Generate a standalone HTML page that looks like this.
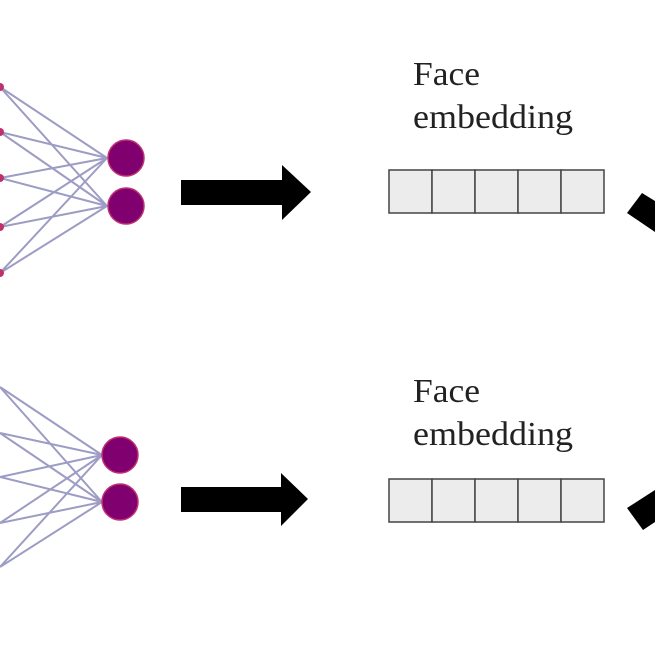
<!DOCTYPE html>
<html><head><meta charset="utf-8"><style>html,body{margin:0;padding:0;background:#fff}svg{display:block}</style></head>
<body>
<svg width="655" height="655" viewBox="0 0 655 655" xmlns="http://www.w3.org/2000/svg">
<g stroke="#9c9cc4" stroke-width="2" fill="none">
  <path d="M0 87L107 158M0 87L107 206M0 132L107 158M0 132L107 206M0 178L107 158M0 178L107 206M0 227L107 158M0 227L107 206M0 273L107 158M0 273L107 206"/>
  <path d="M0 387L102 455M0 387L102 502M0 433L102 455M0 433L102 502M0 477L102 455M0 477L102 502M0 523L102 455M0 523L102 502M0 567L102 455M0 567L102 502"/>
</g>
<g fill="#c0306a">
  <circle cx="0" cy="87" r="4"/><circle cx="0" cy="132" r="4"/><circle cx="0" cy="178" r="4"/><circle cx="0" cy="227" r="4"/><circle cx="0" cy="273" r="4"/>
</g>
<g fill="#800070" stroke="#c03070" stroke-width="1.5">
  <circle cx="126" cy="158" r="18"/><circle cx="126" cy="206" r="18"/>
  <circle cx="120" cy="455" r="18"/><circle cx="120" cy="502" r="18"/>
</g>
<g fill="#000">
  <polygon points="181,180 282,180 282,165 311,192 282,220 282,205 181,205"/>
  <polygon points="181,487 281,487 281,473 308,499 281,526 281,512 181,512"/>
  <polygon points="627,213 642,193 655,201 655,232"/>
  <polygon points="627,508 655,490 655,522 643,530"/>
</g>
<g fill="#ececec" stroke="#444" stroke-width="1.5">
  <rect x="389" y="170" width="43" height="43"/><rect x="432" y="170" width="43" height="43"/><rect x="475" y="170" width="43" height="43"/><rect x="518" y="170" width="43" height="43"/><rect x="561" y="170" width="43" height="43"/>
  <rect x="389" y="479" width="43" height="43"/><rect x="432" y="479" width="43" height="43"/><rect x="475" y="479" width="43" height="43"/><rect x="518" y="479" width="43" height="43"/><rect x="561" y="479" width="43" height="43"/>
</g>
<g font-family="Liberation Serif, serif" font-size="34" fill="#222">
  <text x="413" y="85" textLength="67" lengthAdjust="spacingAndGlyphs">Face</text>
  <text x="413" y="128" textLength="160" lengthAdjust="spacingAndGlyphs">embedding</text>
  <text x="413" y="402" textLength="67" lengthAdjust="spacingAndGlyphs">Face</text>
  <text x="413" y="445" textLength="160" lengthAdjust="spacingAndGlyphs">embedding</text>
</g>
</svg>
</body></html>
